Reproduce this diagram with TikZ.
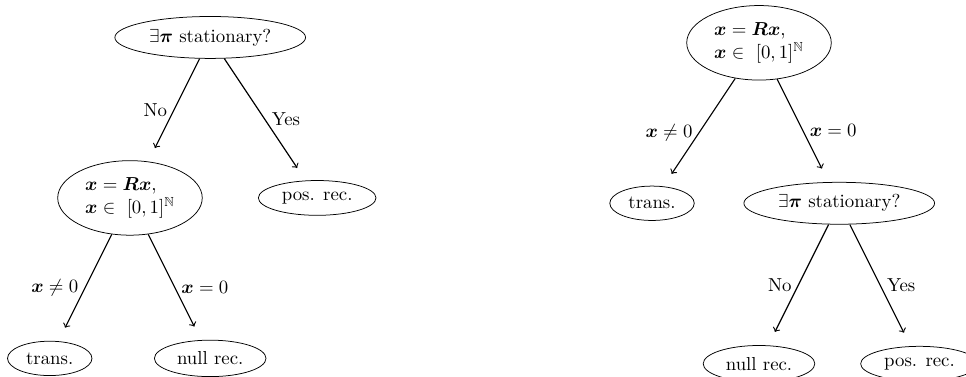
\documentclass[tikz,border=0pt]{standalone}
\usepackage{amsmath}
\usepackage{amssymb}
\usepackage{tikz}
\usetikzlibrary{shapes.geometric}
\tikzstyle{state} = [ellipse, text centered, draw=black]
\tikzstyle{test} = [ellipse, align=left, draw=black]
\tikzstyle{arrow} = [semithick, ->, shorten >=8pt]
\newcommand{\vb}{\boldsymbol}

\begin{document}
\begin{tikzpicture}[node distance=3cm]
\useasboundingbox (0,0) rectangle (18.06,-7.03);

% stationary test first
\node (statL) [state] at (3.93,-0.70) {$\exists\vb{\pi}$ stationary?};
\node (fixL) [test, below of=statL, xshift=-1.5cm] {$\vb{x} = \vb{R}\vb{x}$,\\ $\vb{x} \in\ [0,1]^{\mathbb{N}}$};
\node (posL) [state, below of=statL, xshift=+2cm] {pos. rec.};
\node (transL) [state, below of=fixL, xshift=-1.5cm] {trans.};
\node (nullL) [state, below of=fixL, xshift=+1.5cm] {null rec.};

\draw [arrow] (statL) -- node[left] {No} (fixL);
\draw [arrow] (statL) -- node[right] {Yes} (posL);
\draw [arrow] (fixL) -- node[left] {$\vb{x} \neq 0$} (transL);
\draw [arrow] (fixL) -- node[right] {$\vb{x} = 0$} (nullL);

% fixed point test first
\node (fixR) [test] at (14.19,-0.80) {$\vb{x} = \vb{R}\vb{x}$,\\ $\vb{x} \in\ [0,1]^{\mathbb{N}}$};
\node (transR) [state, below of=fixR, xshift=-2cm] {trans.};
\node (statR) [state, below of=fixR, xshift=+1.5cm] {$\exists\vb{\pi}$ stationary?};
\node (nullR) [state, below of=statR, xshift=-1.5cm] {null rec.};
\node (posR) [state, below of=statR, xshift=+1.5cm] {pos. rec.};

\draw [arrow] (fixR) -- node[left] {$\vb{x} \neq 0$} (transR);
\draw [arrow] (fixR) -- node[right] {$\vb{x} = 0$} (statR);
\draw [arrow] (statR) -- node[left] {No} (nullR);
\draw [arrow] (statR) -- node[right] {Yes} (posR);

\end{tikzpicture}
\end{document}
